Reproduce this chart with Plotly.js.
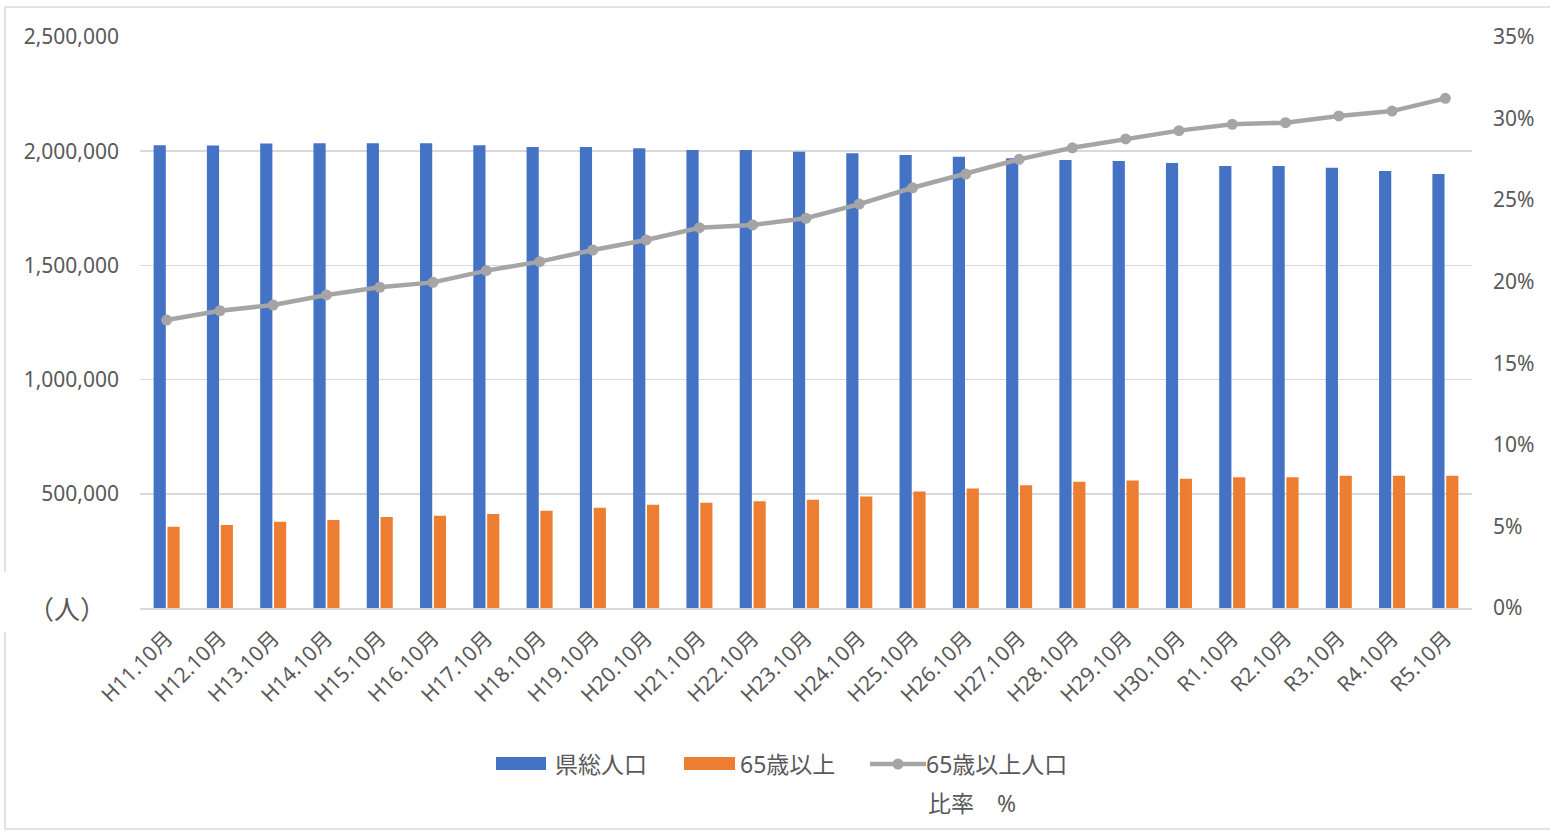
<!DOCTYPE html>
<html>
<head>
<meta charset="utf-8">
<script src="https://cdn.plot.ly/plotly-3.0.1.min.js"></script>
<style>
  html, body { margin: 0; padding: 0; background: #ffffff; }
  #chart { width: 1550px; height: 831px; }
</style>
</head>
<body>
<div id="chart"></div>
<script>
// ---- data ----
const categories = [
  'H11.10月','H12.10月','H13.10月','H14.10月','H15.10月','H16.10月','H17.10月',
  'H18.10月','H19.10月','H20.10月','H21.10月','H22.10月','H23.10月','H24.10月',
  'H25.10月','H26.10月','H27.10月','H28.10月','H29.10月','H30.10月',
  'R1.10月','R2.10月','R3.10月','R4.10月','R5.10月'
];
const totalPopulation = [
  2026000, 2025000, 2034000, 2034500, 2034500, 2035000, 2025700,
  2018300, 2018000, 2012600, 2005000, 2005000, 1997700, 1990700,
  1983300, 1976000, 1968800, 1961400, 1957000, 1948200,
  1935100, 1935000, 1927700, 1913200, 1900100
];
const elderlyPopulation = [
  355700, 363000, 377600, 384800, 398000, 403800, 411100,
  425700, 438800, 451900, 460600, 467900, 473800, 488300,
  510200, 523300, 537900, 552500, 558300, 565600,
  572900, 572900, 578700, 578700, 578700
];
const elderlyRatio = [
  17.65, 18.22, 18.57, 19.19, 19.66, 19.96, 20.68,
  21.23, 21.94, 22.56, 23.31, 23.48, 23.89, 24.76,
  25.76, 26.60, 27.50, 28.21, 28.75, 29.26,
  29.65, 29.75, 30.16, 30.46, 31.24
];
const leftTicks = [500000, 1000000, 1500000, 2000000, 2500000];
const seriesNames = ['県総人口', '65歳以上', '65歳以上人口', '比率　%'];
const unitLabel = '（人）';

// ---- layout helpers ----
const W = 1550, H = 831;
const M = { l: 140, r: 78, t: 37, b: 223 };
const PW = W - M.l - M.r, PH = H - M.t - M.b;
const px = x => (x - M.l) / PW;
const py = y => (H - M.b - y) / PH;

const FONT = 'Noto Sans, Noto Sans CJK JP, sans-serif';
const CJK = 'Noto Sans CJK JP, sans-serif';
const TXT = '#595959';
const BORDER = '#D9D9D9';
const BLUE = '#4472C4', ORANGE = '#ED7D31', GREY = '#A5A5A5';

const traces = [
  { type: 'bar', name: seriesNames[0], x: categories, y: totalPopulation,
    marker: { color: BLUE }, yaxis: 'y', showlegend: false },
  { type: 'bar', name: seriesNames[1], x: categories, y: elderlyPopulation,
    marker: { color: ORANGE }, yaxis: 'y', showlegend: false },
  { type: 'scatter', mode: 'lines+markers', name: seriesNames[2] + ' ' + seriesNames[3],
    x: categories, y: elderlyRatio, yaxis: 'y2',
    line: { color: GREY, width: 4.5 }, marker: { color: GREY, size: 11 },
    showlegend: false }
];

const lineShape = (x0, y0, x1, y1, color, width) => ({
  type: 'line', xref: 'paper', yref: 'paper',
  x0: px(x0), y0: py(y0), x1: px(x1), y1: py(y1),
  line: { color: color, width: width }
});

const shapes = [
  // chart area border (left edge interrupted by unit label)
  lineShape(5, 7, 1552, 7, BORDER, 1.5),
  lineShape(5, 829, 1552, 829, BORDER, 1.5),
  lineShape(5, 7, 5, 572, BORDER, 1.5),
  lineShape(5, 632, 5, 829, BORDER, 1.5),
  // legend swatches
  { type: 'rect', xref: 'paper', yref: 'paper', x0: px(496), x1: px(546), y0: py(770), y1: py(757),
    fillcolor: BLUE, line: { width: 0 } },
  { type: 'rect', xref: 'paper', yref: 'paper', x0: px(684), x1: px(735), y0: py(770), y1: py(757),
    fillcolor: ORANGE, line: { width: 0 } },
  lineShape(870, 764, 926, 764, GREY, 4.5),
  { type: 'circle', xref: 'paper', yref: 'paper', x0: px(892.5), x1: px(903.5), y0: py(769.5), y1: py(758.5),
    fillcolor: GREY, line: { width: 0 } }
];

const ann = (text, x, y, xanchor, size, family) => ({
  text: text, xref: 'paper', yref: 'paper', x: px(x), y: py(y),
  xanchor: xanchor, yanchor: 'middle', showarrow: false,
  font: { family: family || FONT, size: size, color: TXT }
});

const annotations = [
  ann(unitLabel, 67, 607, 'center', 26, CJK),
  ann(seriesNames[0], 553, 764, 'left', 23),
  ann(seriesNames[1], 738, 764, 'left', 23),
  ann(seriesNames[2], 924, 764, 'left', 23),
  ann(seriesNames[3], 926, 803, 'left', 23)
];

const layout = {
  width: W, height: H,
  margin: M,
  paper_bgcolor: '#ffffff', plot_bgcolor: '#ffffff',
  barmode: 'group', bargap: 0.48, bargroupgap: 0.12,
  font: { family: FONT, color: TXT, size: 21 },
  showlegend: false,
  xaxis: {
    type: 'category', range: [-0.5, categories.length - 0.5], autorange: false,
    tickangle: -45, showgrid: false, zeroline: false,
    showline: true, linecolor: BORDER, linewidth: 1.5,
    tickfont: { family: FONT, size: 21, color: TXT }, ticks: '', ticklabelstandoff: 8
  },
  yaxis: {
    range: [0, 2500000], autorange: false, tickvals: leftTicks, tickformat: ',d',
    showgrid: true, gridcolor: BORDER, gridwidth: 1.5, zeroline: false,
    showline: false, ticks: '', ticklabelstandoff: 20,
    tickfont: { family: FONT, size: 21, color: TXT }
  },
  yaxis2: {
    range: [0, 35], autorange: false, dtick: 5, tick0: 0, ticksuffix: '%', overlaying: 'y', side: 'right',
    showgrid: false, zeroline: false, showline: false, ticks: '', ticklabelstandoff: 20,
    tickfont: { family: FONT, size: 21, color: TXT }
  },
  shapes: shapes,
  annotations: annotations
};

Plotly.newPlot('chart', traces, layout, { displayModeBar: false, staticPlot: true });
</script>
</body>
</html>
